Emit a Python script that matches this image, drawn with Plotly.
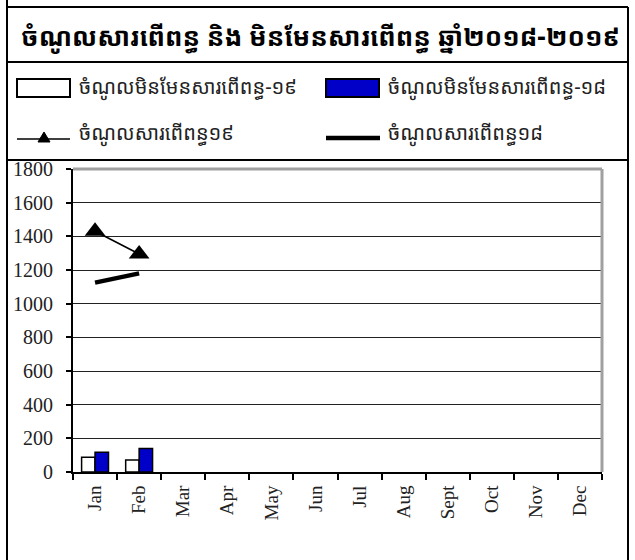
import plotly.graph_objects as go

months = ["Jan", "Feb", "Mar", "Apr", "May", "Jun", "Jul", "Aug", "Sept", "Oct", "Nov", "Dec"]
nontax_19 = [88, 72, None, None, None, None, None, None, None, None, None, None]
nontax_18 = [117, 140, None, None, None, None, None, None, None, None, None, None]
tax_19 = [1430, 1295, None, None, None, None, None, None, None, None, None, None]
tax_18 = [1125, 1180, None, None, None, None, None, None, None, None, None, None]
y_ticks = [0, 200, 400, 600, 800, 1000, 1200, 1400, 1600, 1800]

title_text = "ចំណូលសារពើពន្ធ និង មិនមែនសារពើពន្ធ ឆ្នាំ២០១៨-២០១៩"
name_nt19 = "ចំណូលមិនមែនសារពើពន្ធ-១៩"
name_nt18 = "ចំណូលមិនមែនសារពើពន្ធ-១៨"
name_t19 = "ចំណូលសារពើពន្ធ១៩"
name_t18 = "ចំណូលសារពើពន្ធ១៨"

W, H = 635, 560
# plot area in pixels: x 73..602, y 169..472
L, T = 73, 169
R, B = W - 602, H - 472
PW, PH = W - L - R, H - T - B

def px(x):
    return (x - L) / PW

def py(y):
    return (H - B - y) / PH

KH_FONT = "Khmer OS, Khmer OS System, Noto Sans Khmer, Noto Serif Khmer, DejaVu Sans, sans-serif"
SERIF = "Liberation Serif, Times New Roman, serif"

fig = go.Figure()
fig.add_trace(go.Bar(x=months, y=nontax_19, name=name_nt19,
                     marker=dict(color="white", line=dict(color="black", width=1.5)),
                     showlegend=False))
fig.add_trace(go.Bar(x=months, y=nontax_18, name=name_nt18,
                     marker=dict(color="#0000c8", line=dict(color="black", width=1.5)),
                     showlegend=False))
fig.add_trace(go.Scatter(x=months, y=tax_19, name=name_t19, mode="lines+markers",
                         line=dict(color="black", width=1.5),
                         marker=dict(symbol="triangle-up", size=18, color="black"),
                         showlegend=False))
fig.add_trace(go.Scatter(x=months, y=tax_18, name=name_t18, mode="lines",
                         line=dict(color="black", width=4.5),
                         showlegend=False))

shapes = []
def hline(y, x0, x1, color="black", width=2):
    shapes.append(dict(type="line", xref="paper", yref="paper",
                       x0=px(x0), x1=px(x1), y0=py(y), y1=py(y),
                       line=dict(color=color, width=width)))

def vline(x, y0, y1, color="black", width=2):
    shapes.append(dict(type="line", xref="paper", yref="paper",
                       x0=px(x), x1=px(x), y0=py(y0), y1=py(y1),
                       line=dict(color=color, width=width)))

# outer frame
vline(7, 0, 562)
vline(628, 7, 562)
hline(7, 7, 628)
hline(62, 7, 628)
hline(160, 7, 628)
# plot frame top/right in gray
hline(169, 73, 602, color="#a0a0a0", width=3)
vline(602, 169, 472, color="#a0a0a0", width=3)

# legend symbols
shapes.append(dict(type="rect", xref="paper", yref="paper",
                   x0=px(17), x1=px(70), y0=py(97), y1=py(79),
                   fillcolor="white", line=dict(color="black", width=2)))
shapes.append(dict(type="rect", xref="paper", yref="paper",
                   x0=px(326), x1=px(379), y0=py(97), y1=py(79),
                   fillcolor="#0000c8", line=dict(color="black", width=2)))
hline(139, 17, 70, width=1.5)
shapes.append(dict(type="path", xref="paper", yref="paper",
                   path="M %f,%f L %f,%f L %f,%f Z" % (px(38), py(142), px(50), py(142), px(44), py(132)),
                   fillcolor="black", line=dict(color="black", width=1)))
hline(138, 326, 380, width=4.5)

annotations = [
    dict(text="<b>%s</b>" % title_text, xref="paper", yref="paper", x=px(320), y=py(36),
         xanchor="center", yanchor="middle", showarrow=False,
         font=dict(family=KH_FONT, size=26, color="black")),
    dict(text=name_nt19, xref="paper", yref="paper", x=px(77), y=py(87),
         xanchor="left", yanchor="middle", showarrow=False,
         font=dict(family=KH_FONT, size=20, color="#222")),
    dict(text=name_nt18, xref="paper", yref="paper", x=px(386), y=py(87),
         xanchor="left", yanchor="middle", showarrow=False,
         font=dict(family=KH_FONT, size=20, color="#222")),
    dict(text=name_t19, xref="paper", yref="paper", x=px(77), y=py(133),
         xanchor="left", yanchor="middle", showarrow=False,
         font=dict(family=KH_FONT, size=20, color="#222")),
    dict(text=name_t18, xref="paper", yref="paper", x=px(386), y=py(133),
         xanchor="left", yanchor="middle", showarrow=False,
         font=dict(family=KH_FONT, size=20, color="#222")),
]

fig.update_layout(
    width=W, height=H,
    margin=dict(l=L, r=R, t=T, b=B, pad=0),
    paper_bgcolor="white", plot_bgcolor="white",
    barmode="group", bargap=0.39, bargroupgap=0,
    showlegend=False,
    shapes=shapes,
    annotations=annotations,
    xaxis=dict(type="category", categoryorder="array", categoryarray=months,
               range=[-0.5, 11.5],
               showline=True, linecolor="black", linewidth=2,
               ticks="outside", tickson="boundaries", ticklen=6, tickcolor="black", tickwidth=1.5,
               tickangle=-90, ticklabelstandoff=4,
               tickfont=dict(family=SERIF, size=19, color="#222"),
               showgrid=False, zeroline=False, fixedrange=True),
    yaxis=dict(range=[0, 1800], tickvals=y_ticks,
               showline=True, linecolor="black", linewidth=2,
               ticks="outside", ticklen=5, tickcolor="black", tickwidth=1.5,
               ticklabelstandoff=9,
               tickfont=dict(family=SERIF, size=20, color="#222"),
               showgrid=True, gridcolor="#222", gridwidth=1.2,
               zeroline=False, fixedrange=True),
)

fig.write_html("out.html", config={"displayModeBar": False},
               post_script="document.body.style.margin='0';")
